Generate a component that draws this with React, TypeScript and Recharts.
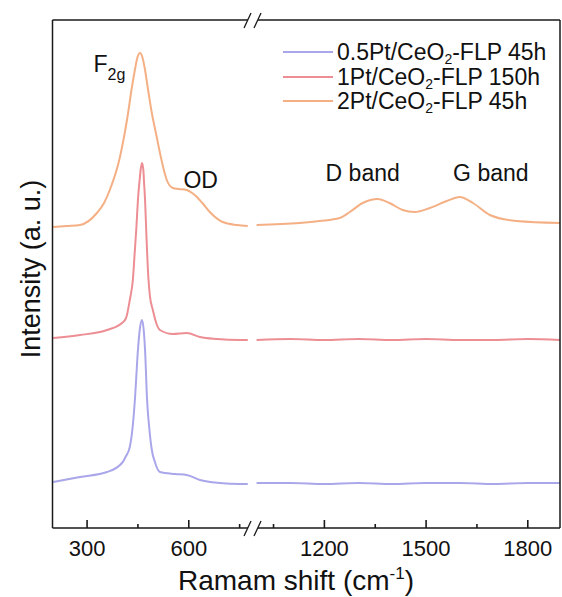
import React from 'react';
import { LineChart, Line, XAxis, YAxis, ReferenceDot } from 'recharts';

// broken x axis: left part up to ~790 cm-1, right part from 1000 cm-1 drawn 200 units closer
const BREAK_AT = 790;
const SHIFT = 200;
const X_MIN = 198;
const X_MAX = 1895;

const MAJOR_TICKS = [300, 600, 1200, 1500, 1800];
const MINOR_TICKS = [450, 750, 1050, 1350, 1650];

// [Raman shift, intensity (a.u., stacked offsets)]
const blueLeft: [number, number][] = [
  [200, 46], [279, 51], [359, 56], [403, 65], [415, 72], [426, 81], [435, 103],
  [441, 128], [450, 178], [456, 200], [462, 208], [467, 198], [471, 178], [477, 128],
  [484, 98], [491, 78], [500, 66], [515, 56], [560, 54], [594, 53], [633, 48],
  [691, 45], [751, 44], [774, 44],
];
const blueRight: [number, number][] = [
  [1000, 45], [1100, 45], [1200, 44], [1300, 45], [1400, 44], [1500, 45],
  [1600, 45], [1700, 44], [1800, 45], [1895, 45],
];

const redLeft: [number, number][] = [
  [200, 190], [279, 193], [359, 198], [403, 205], [415, 210], [426, 228], [435, 248],
  [441, 278], [445, 298], [450, 328], [455, 348], [458, 358], [462, 365], [466, 358],
  [468, 346], [471, 328], [475, 293], [479, 261], [485, 233], [494, 218], [505, 204],
  [515, 198], [553, 194], [594, 195], [633, 191], [683, 189], [751, 188], [774, 188],
];
const redRight: [number, number][] = [
  [1000, 188], [1100, 189], [1200, 188], [1300, 189], [1400, 188], [1500, 189],
  [1600, 188], [1700, 188], [1800, 189], [1895, 188],
];

const orangeLeft: [number, number][] = [
  [200, 301], [240, 302], [279, 303], [329, 315], [350, 325], [367, 338], [397, 371],
  [410, 393], [421, 415], [430, 436], [441, 458], [448, 470], [456, 475], [463, 471],
  [471, 458], [480, 438], [491, 415], [503, 395], [515, 375], [525, 360], [535, 348],
  [553, 340], [570, 339], [594, 338], [610, 335], [624, 331], [640, 325], [662, 316],
  [700, 306], [742, 303], [774, 302],
];
const orangeRight: [number, number][] = [
  [1000, 303], [1127, 305], [1186, 307], [1245, 310], [1275, 316], [1313, 325],
  [1357, 329], [1392, 325], [1431, 318], [1466, 316], [1511, 320], [1561, 327],
  [1599, 331], [1638, 325], [1688, 313], [1767, 307], [1895, 305],
];

const SERIES = [
  { key: 'blue', pre: '0.5Pt/CeO', post: '-FLP 45h', color: '#aaa6ea', left: blueLeft, right: blueRight },
  { key: 'red', pre: '1Pt/CeO', post: '-FLP 150h', color: '#ec8e93', left: redLeft, right: redRight },
  { key: 'orange', pre: '2Pt/CeO', post: '-FLP 45h', color: '#f4b084', left: orangeLeft, right: orangeRight },
];

const FONT = '"Liberation Sans", Arial, sans-serif';
const INK = '#1a1a1a';

const toT = (x: number) => (x > BREAK_AT ? x - SHIFT : x);
const fromT = (t: number) => (t > BREAK_AT ? t + SHIFT : t);

const build = (left: [number, number][], right: [number, number][]) => [
  ...left.map(([x, v]) => ({ t: toT(x), v })),
  { t: BREAK_AT - 1, v: null },
  ...right.map(([x, v]) => ({ t: toT(x), v })),
];

const XTick = (props: any) => {
  const { x, y, payload } = props;
  return (
    <text x={x} y={y + 28} textAnchor="middle" fontSize={22} fontFamily={FONT} fill="#111">
      {fromT(payload.value)}
    </text>
  );
};

// inward tick mark drawn up from the axis
const TickMark = (len: number) => (p: any) => (
  <line x1={p.cx} x2={p.cx} y1={p.cy} y2={p.cy - len} stroke={INK} strokeWidth={1.6} />
);

const BreakMark = (props: any) => {
  const { cx, cy } = props;
  return (
    <g>
      <rect x={cx - 5} y={cy - 2} width={10} height={4} fill="#fff" />
      <line x1={cx - 9} y1={cy + 8} x2={cx - 2} y2={cy - 7} stroke={INK} strokeWidth={1.3} />
      <line x1={cx + 1} y1={cy + 8} x2={cx + 8} y2={cy - 7} stroke={INK} strokeWidth={1.3} />
    </g>
  );
};

const LegendBox = () => (
  <div style={{ position: 'absolute', left: 283, top: 40, fontFamily: FONT, fontSize: 23, color: '#111' }}>
    {SERIES.map((s) => (
      <div key={s.key} style={{ display: 'flex', alignItems: 'center', height: 24.5, lineHeight: '24.5px', whiteSpace: 'nowrap' }}>
        <span style={{ display: 'inline-block', width: 50, height: 2, background: s.color, marginRight: 4 }} />
        <span>
          {s.pre}
          <sub style={{ fontSize: 14, lineHeight: 0, verticalAlign: -4 }}>2</sub>
          {s.post}
        </span>
      </div>
    ))}
  </div>
);

const textAt = (content: React.ReactNode, anchor: string = 'middle') => (p: any) => (
  <text x={p.cx} y={p.cy} textAnchor={anchor} fontSize={23} fontFamily={FONT} fill="#111">
    {content}
  </text>
);

const App: React.FC = () => {
  const domain = [toT(X_MIN), toT(X_MAX)];
  return (
    <div style={{ position: 'absolute', left: 0, top: 0, width: 562, height: 597, background: '#fff' }}>
      <LineChart width={562} height={597} margin={{ top: 19, right: 1, left: 0, bottom: 0 }}>
        <XAxis
          type="number"
          dataKey="t"
          domain={domain}
          allowDataOverflow
          ticks={MAJOR_TICKS.map(toT)}
          interval={0}
          tick={<XTick />}
          tickLine={false}
          axisLine={{ stroke: INK, strokeWidth: 1.5 }}
          tickSize={0}
          tickMargin={0}
          height={69}
          label={{
            content: () => (
              <text x={296} y={590} textAnchor="middle" fontSize={28} fontFamily={FONT} fill="#111">
                Ramam shift (cm
                <tspan dy={-11} fontSize={17}>-1</tspan>
                <tspan dy={11} fontSize={28}>)</tspan>
              </text>
            ),
          }}
        />
        <XAxis
          xAxisId="top"
          orientation="top"
          type="number"
          dataKey="t"
          domain={domain}
          allowDataOverflow
          height={1}
          ticks={[toT(X_MIN)]}
          tick={() => <g />}
          tickLine={false}
          axisLine={{ stroke: INK, strokeWidth: 1.5 }}
        />
        <YAxis
          type="number"
          domain={[0, 508]}
          allowDataOverflow
          width={52.5}
          tick={false}
          tickLine={false}
          axisLine={{ stroke: INK, strokeWidth: 1.5 }}
          label={{
            content: () => (
              <text
                x={40}
                y={269}
                transform="rotate(-90, 40, 269)"
                textAnchor="middle"
                fontSize={27}
                fontFamily={FONT}
                fill="#111"
              >
                Intensity (a. u.)
              </text>
            ),
          }}
        />
        <YAxis
          yAxisId="right"
          orientation="right"
          type="number"
          domain={[0, 508]}
          allowDataOverflow
          width={1}
          ticks={[0]}
          tick={() => <g />}
          tickLine={false}
          axisLine={{ stroke: INK, strokeWidth: 1.5 }}
        />
        {SERIES.map((s) => (
          <Line
            key={s.key}
            data={build(s.left, s.right)}
            dataKey="v"
            type="monotone"
            stroke={s.color}
            strokeWidth={2}
            dot={false}
            activeDot={false}
            isAnimationActive={false}
          />
        ))}
        {MAJOR_TICKS.map((x) => (
          <ReferenceDot key={`maj-${x}`} x={toT(x)} y={0} ifOverflow="visible" shape={TickMark(8)} />
        ))}
        {MINOR_TICKS.map((x) => (
          <ReferenceDot key={`min-${x}`} x={toT(x)} y={0} ifOverflow="visible" shape={TickMark(4)} />
        ))}
        <ReferenceDot x={789.5} y={0} ifOverflow="visible" shape={<BreakMark />} />
        <ReferenceDot x={789.5} y={508} ifOverflow="visible" shape={<BreakMark />} />
        <ReferenceDot
          x={toT(319)}
          y={456}
          ifOverflow="visible"
          shape={textAt(
            <>
              F<tspan dy={8} fontSize={16}>2g</tspan>
            </>,
            'start'
          )}
        />
        <ReferenceDot x={toT(635)} y={340} ifOverflow="visible" shape={textAt('OD')} />
        <ReferenceDot x={toT(1313)} y={347} ifOverflow="visible" shape={textAt('D band')} />
        <ReferenceDot x={toT(1691)} y={347} ifOverflow="visible" shape={textAt('G band')} />
      </LineChart>
      <LegendBox />
    </div>
  );
};

export default App;
